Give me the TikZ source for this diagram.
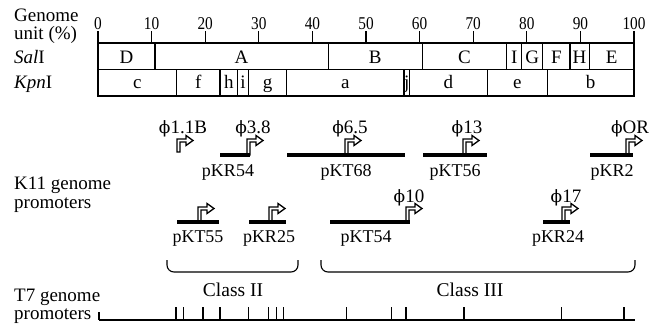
\documentclass[tikz,border=0pt]{standalone}
\usepackage{fontspec}
\setmainfont{Liberation Serif}
\newfontfamily\condfont[FakeStretch=0.85]{Liberation Serif}
\newfontfamily\phif{DejaVu Serif}
\newcommand\ph{{\phif\fontsize{17}{17}\selectfont ϕ}}
\newcommand\promarr[3]{%
  \draw[prom] (#1,#2) -- (#1,#3) -- ({#1+9},#3) -- ({#1+9},{#3-3.5}) -- ({#1+16},{#3+1.5}) -- ({#1+9},{#3+6.5}) -- ({#1+9},{#3+3}) -- ({#1+3},{#3+3}) -- ({#1+3},#2) -- cycle;}
\tikzset{
  lbl/.style={font=\fontsize{19}{16}\selectfont, align=left, inner sep=0, anchor=base west},
  seg/.style={font=\fontsize{19}{19}\selectfont, inner sep=0, anchor=base},
  num/.style={font=\condfont\fontsize{18}{18}\selectfont, inner sep=0, anchor=base},
  plab/.style={font=\fontsize{18}{18}\selectfont, inner sep=0, anchor=base},
  phil/.style={font=\fontsize{19}{19}\selectfont, inner sep=0, anchor=base},
  clab/.style={font=\fontsize{19.5}{19.5}\selectfont, inner sep=0, anchor=base},
  boxline/.style={line width=1.5pt},
  barline/.style={line width=4pt},
  prom/.style={draw, fill=white, line width=1.3pt, line join=miter},
  brk/.style={line width=1.1pt, rounded corners=7pt},
  tk/.style={line width=1.1pt},
}
\begin{document}
\begin{tikzpicture}[x=1pt,y=-1pt]
\useasboundingbox (0,0) rectangle (656,324);
% left labels (anchor = baseline of last line)
\node[lbl] (genome) at (14,39) {Genome\\[2pt]unit (\%)};
\node[lbl] (sal) at (14,63.5) {\textit{Sal}I};
\node[lbl] (kpn) at (14,88.5) {\textit{Kpn}I};
\node[lbl] (k11) at (14,208) {K11 genome\\[3pt]promoters};
\node[lbl] (t7) at (14,319) {T7 genome\\[2pt]promoters};
% scale ticks
\foreach \u in {0,10,...,100} {
  \pgfmathsetmacro\xx{98+5.36*\u}
  \draw[tk] (\xx,31) -- (\xx,43);
  \node[num] (n\u) at (\xx,29) {\u};
}
% restriction maps
\draw[boxline] (98,43) rectangle (634,69.5);
\draw[boxline] (98,69.5) rectangle (634,96);
\foreach \b in {155,328.3,422.3,506.7,521.7,542.7,570,589.3} \draw[boxline] (\b,43) -- (\b,69.5);
\foreach \b in {176.7,220,237.7,248.3,286.7,404,409.3,487.3,547.3} \draw[boxline] (\b,69.5) -- (\b,96);
\foreach \c/\t in {126.5/D,241.6/A,375.3/B,464.5/C,514.2/I,532.2/G,556.3/F,579.6/H,611.6/E}
  \node[seg] (s\t) at (\c,63.5) {\t};
\foreach \c/\t in {137.3/c,198.3/f,228.8/h,243/i,267.5/g,345.3/a,406.7/j,448.3/d,517.3/e,590.6/b}
  \node[seg] (k\t) at (\c,88.5) {\t};
% promoter arrows row 1
\promarr{177}{152}{139}
\promarr{247}{155}{139}
\promarr{345}{155}{139}
\promarr{463}{155}{139}
\promarr{626}{155}{139}
% row 2
\promarr{198}{222}{207}
\promarr{269}{222}{207}
\promarr{406}{222}{207}
\promarr{562}{222}{207}
% bars
\draw[barline] (220,155) -- (250,155);
\draw[barline] (287,155) -- (405,155);
\draw[barline] (423,155) -- (487,155);
\draw[barline] (590,155) -- (633,155);
\draw[barline] (177,222) -- (219,222);
\draw[barline] (249,222) -- (286,222);
\draw[barline] (330,222) -- (410,222);
\draw[barline] (543,222) -- (570,222);
% phi labels
\node[phil] (p11b) at (183,133) {\ph1.1B};
\node[phil] (p38) at (253,133) {\ph3.8};
\node[phil] (p65) at (350,133) {\ph6.5};
\node[phil] (p13) at (467,133) {\ph13};
\node[phil] (por) at (630,133) {\ph OR};
\node[phil] (p10) at (409,202) {\ph10};
\node[phil] (p17) at (566,202) {\ph17};
% plasmid labels
\node[plab] (kr54) at (228,176) {pKR54};
\node[plab] (kt68) at (346,176) {pKT68};
\node[plab] (kt56) at (455,176) {pKT56};
\node[plab] (kr2) at (612,176) {pKR2};
\node[plab] (kt55) at (198,242) {pKT55};
\node[plab] (kr25) at (269,242) {pKR25};
\node[plab] (kt54) at (366,242) {pKT54};
\node[plab] (kr24) at (558,242) {pKR24};
% brackets
\draw[brk] (167,260) -- (167,272) -- (298,272) -- (298,260);
\draw[brk] (321,260) -- (321,272) -- (635,272) -- (635,260);
\node[clab] (c2) at (233,296) {Class II};
\node[clab] (c3) at (470,296) {Class III};
% T7 line
\draw[boxline] (99,320) -- (635,320);
\draw[tk] (99,312) -- (99,320);
\foreach \t in {183.3,220,248.3,268.3,276.7,283.3,346.7,391.7,406,464,561.7,624}
  \draw[tk] (\t,307) -- (\t,320);
\draw[line width=2pt] (175.7,307) -- (175.7,320);
\draw[line width=1.6pt] (202.7,307) -- (202.7,320);
\end{tikzpicture}
\end{document}
